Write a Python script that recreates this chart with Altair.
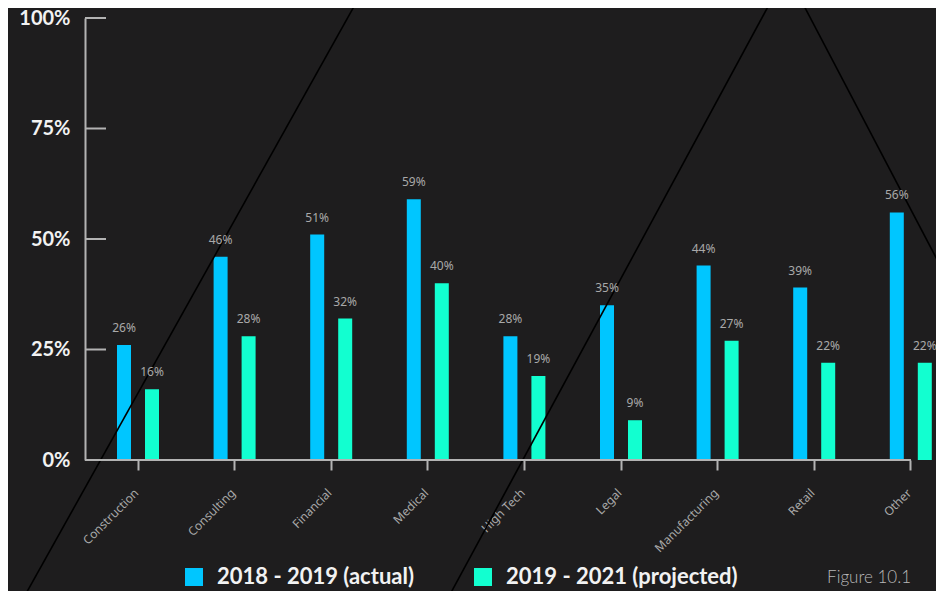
import altair as alt
import pandas as pd

categories = ["Construction", "Consulting", "Financial", "Medical", "High Tech",
              "Legal", "Manufacturing", "Retail", "Other"]
actual = [26, 46, 51, 59, 28, 35, 44, 39, 56]
projected = [16, 28, 32, 40, 19, 9, 27, 22, 22]
series_names = ["2018 - 2019 (actual)", "2019 - 2021 (projected)"]
y_ticks = [0, 0.25, 0.5, 0.75, 1.0]
footnote = "Figure 10.1"

rows = []
for c, a, p in zip(categories, actual, projected):
    rows.append({"category": c, "series": series_names[0], "value": a / 100})
    rows.append({"category": c, "series": series_names[1], "value": p / 100})
df = pd.DataFrame(rows)
ticks_df = pd.DataFrame({"value": y_ticks})

BG = "#1e1d1e"
BLUE = "#00c6ff"
TEAL = "#12ffd0"
AXIS = "#b3b3b3"
FONT = "Noto Sans"
BOLD_FONT = "Lato"
W, H = 826, 442

x_enc = alt.X(
    "category:N", sort=categories,
    scale=alt.Scale(range=[4.7, 874.1], paddingInner=0, paddingOuter=0),
    axis=alt.Axis(title=None, domain=False, labelAngle=-45, labelAlign="right",
                  labelBaseline="top", labelColor="#a9a9a9",
                  labelFontSize=12, labelFont=FONT, tickColor=AXIS, tickSize=10,
                  tickWidth=2, labelPadding=17, labelOffset=-5, grid=False),
)
xoff = alt.XOffset("series:N", sort=series_names,
                   scale=alt.Scale(range=[27.3, 69.3], paddingInner=0.5, paddingOuter=0))
y_enc = alt.Y(
    "value:Q", scale=alt.Scale(domain=[0, 1], nice=False),
    axis=alt.Axis(title=None, values=y_ticks, format=".0%", ticks=False, grid=False,
                  domainColor=AXIS, domainWidth=2, labelColor="#f2f2f2",
                  labelFontSize=20, labelFontWeight="bold", labelFont=BOLD_FONT,
                  labelPadding=15),
)
color = alt.Color(
    "series:N", sort=series_names,
    scale=alt.Scale(domain=series_names, range=[BLUE, TEAL]),
    legend=alt.Legend(title=None, orient="none", legendX=98, legendY=548,
                      direction="horizontal", symbolType="square", symbolSize=324,
                      symbolStrokeWidth=0, symbolOpacity=1, labelColor="#f2f2f2",
                      labelFontSize=22, labelFontWeight="bold", labelFont=BOLD_FONT,
                      labelLimit=0, columnPadding=58, labelOffset=12),
)

one = alt.Data(values=[{}])

def deco(x1, y1, x2, y2):
    return alt.Chart(one).mark_rule(color="#000000", strokeWidth=1.6).encode(
        x=alt.value(x1), y=alt.value(y1), x2=alt.value(x2), y2=alt.value(y2))

lines = [
    deco(278.2, -28, -62.6, 582),
    deco(692.0, -28, 362.0, 582),
    deco(710.7, -28, 1040.0, 600),
]

bars = alt.Chart(df).mark_bar().encode(x=x_enc, xOffset=xoff, y=y_enc, color=color)

labels = alt.Chart(df).mark_text(
    dy=-17, baseline="middle", align="center", fontSize=12, font=FONT, color="#a9a9a9"
).encode(x=x_enc, xOffset=xoff, y=y_enc, text=alt.Text("value:Q", format=".0%"))

ytick_rules = alt.Chart(ticks_df).mark_rule(color=AXIS, strokeWidth=2).encode(
    y=y_enc, x=alt.value(0), x2=alt.value(21))

baseline = alt.Chart(one).mark_rule(color=AXIS, strokeWidth=2).encode(
    y=alt.datum(0), x=alt.value(0), x2=alt.value(W))

fig = alt.Chart(one).mark_text(
    align="right", baseline="middle", fontSize=17, font=BOLD_FONT, fontWeight=300,
    color="#b8b8b8", text=footnote
).encode(x=alt.value(W), y=alt.value(560))

chart = alt.layer(bars, *lines, labels, ytick_rules, baseline, fig).properties(
    width=W, height=H,
    autosize=alt.AutoSizeParams(type="none"),
    padding={"left": 77, "top": 10, "right": 25, "bottom": 131},
    background=BG,
).configure_view(stroke=None)

chart.save("out.html", embed_options={"renderer": "svg", "actions": False})
